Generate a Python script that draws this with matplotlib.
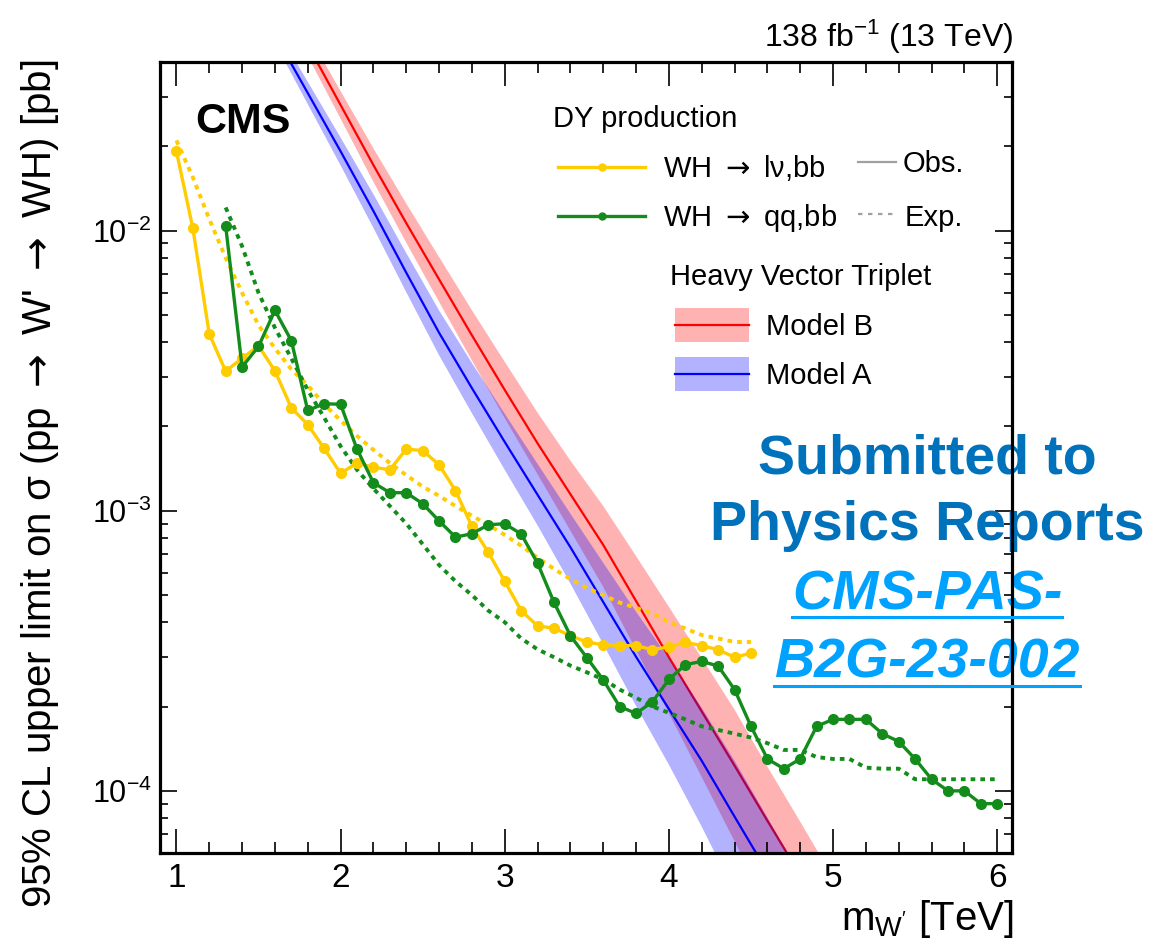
import numpy as np
import matplotlib
matplotlib.use('Agg')
import matplotlib.pyplot as plt
from matplotlib.lines import Line2D
from matplotlib.patches import Rectangle
from matplotlib.ticker import FixedLocator, MultipleLocator, LogLocator, NullFormatter

plt.rcParams['font.family'] = ['Liberation Sans', 'DejaVu Sans']
plt.rcParams['mathtext.fontset'] = 'custom'
plt.rcParams['mathtext.rm'] = 'Liberation Sans'
plt.rcParams['mathtext.it'] = 'Liberation Sans:italic'
plt.rcParams['mathtext.bf'] = 'Liberation Sans:bold'

# WH -> lv,bb (yellow)
m_lvbb = [1.0, 1.1, 1.2, 1.3, 1.4, 1.5, 1.6, 1.7, 1.8, 1.9, 2.0, 2.1, 2.2, 2.3, 2.4, 2.5, 2.6, 2.7,
          2.8, 2.9, 3.0, 3.1, 3.2, 3.3, 3.4, 3.5, 3.6, 3.7, 3.8, 3.9, 4.0, 4.1, 4.2, 4.3, 4.4, 4.5]
obs_lvbb = [0.0192, 0.0102, 0.00428, 0.00315, 0.0035, 0.00388, 0.00316, 0.00233, 0.00203, 0.00167,
            0.00136, 0.00148, 0.00143, 0.00140, 0.00166, 0.00164, 0.00146, 0.00118, 0.000879, 0.00071,
            0.00056, 0.00044, 0.000388, 0.000381, 0.000358, 0.00034, 0.000332, 0.00033, 0.00033,
            0.000319, 0.000327, 0.000339, 0.00033, 0.000319, 0.0003, 0.00031]
exp_lvbb = [0.021, 0.0155, 0.0110, 0.0080, 0.0060, 0.0046, 0.0038, 0.0032, 0.0028, 0.0024,
            0.0021, 0.00185, 0.00165, 0.00148, 0.00134, 0.00122, 0.00113, 0.00104, 0.00096, 0.00089,
            0.00082, 0.00075, 0.00068, 0.00062, 0.00057, 0.00053, 0.00050, 0.00047, 0.00045,
            0.00043, 0.00040, 0.00038, 0.00036, 0.00035, 0.00034, 0.00034]

# WH -> qq,bb (green)
m_qqbb = [1.3, 1.4, 1.5, 1.6, 1.7, 1.8, 1.9, 2.0, 2.1, 2.2, 2.3, 2.4, 2.5, 2.6, 2.7, 2.8, 2.9, 3.0,
          3.1, 3.2, 3.3, 3.4, 3.5, 3.6, 3.7, 3.8, 3.9, 4.0, 4.1, 4.2, 4.3, 4.4, 4.5, 4.6, 4.7, 4.8,
          4.9, 5.0, 5.1, 5.2, 5.3, 5.4, 5.5, 5.6, 5.7, 5.8, 5.9, 6.0]
obs_qqbb = [0.0104, 0.00326, 0.00386, 0.00519, 0.00405, 0.00228, 0.00241, 0.0024, 0.00166, 0.00126,
            0.00116, 0.00116, 0.00106, 0.00092, 0.000805, 0.000828, 0.000891, 0.000899, 0.000826,
            0.00065, 0.000471, 0.000358, 0.000299, 0.000249, 0.0002, 0.000189, 0.000208, 0.00025,
            0.000282, 0.00029, 0.000279, 0.00023, 0.00017, 0.00013, 0.00012, 0.00013, 0.00017,
            0.00018, 0.00018, 0.00018, 0.00016, 0.00015, 0.00013, 0.00011, 0.0001, 0.0001, 0.00009, 0.00009]
exp_qqbb = [0.0121, 0.0088, 0.0060, 0.0045, 0.0035, 0.0027, 0.00215, 0.0017, 0.0014, 0.0012,
            0.00104, 0.0009, 0.00076, 0.00064, 0.00056, 0.0005, 0.00044, 0.0004, 0.00035, 0.00032,
            0.0003, 0.00028, 0.000265, 0.00025, 0.00023, 0.000215, 0.0002, 0.00019, 0.00018, 0.00017,
            0.000165, 0.00016, 0.000155, 0.000148, 0.00014, 0.00014, 0.000132, 0.00013, 0.00013,
            0.000121, 0.00012, 0.00012, 0.00011, 0.00011, 0.00011, 0.00011, 0.00011, 0.00011]

# HVT model A (blue) and model B (red)
m_hvtA = [1.6, 1.8, 2.0, 2.2, 2.4, 2.6, 2.8, 3.0, 3.2, 3.4, 3.6, 3.8, 4.0, 4.2, 4.4, 4.6, 4.8]
xs_hvtA = [0.0501, 0.0310, 0.0192, 0.01175, 0.00708, 0.00432, 0.00274, 0.00176, 0.00114, 0.000741,
           0.000472, 0.000301, 0.000196, 0.000128, 8.09e-5, 5.13e-5, 3.24e-5]
lo_hvtA = [0.0468, 0.0283, 0.0171, 0.01023, 0.00603, 0.00359, 0.00223, 0.0014, 0.000887, 0.00055,
           0.000334, 0.000201, 0.000124, 7.45e-5, 4.35e-5, 2.54e-5, 1.48e-5]
hi_hvtA = [0.0537, 0.0340, 0.0215, 0.01349, 0.00832, 0.00519, 0.00337, 0.00222, 0.00147, 0.000977,
           0.000652, 0.000436, 0.000297, 0.000198, 0.000128, 8.04e-5, 5.01e-5]

m_hvtB = [1.8, 2.0, 2.2, 2.4, 2.6, 2.8, 3.0, 3.2, 3.4, 3.6, 3.8, 4.0, 4.2, 4.4, 4.6, 4.8, 5.0]
xs_hvtB = [0.0460, 0.0281, 0.01714, 0.01064, 0.0067, 0.00423, 0.0027, 0.00174, 0.001146, 0.000755,
           0.000476, 0.0003, 0.000192, 0.000123, 7.82e-5, 5.01e-5, 3.16e-5]
lo_hvtB = [0.0420, 0.0251, 0.01493, 0.00906, 0.00557, 0.00344, 0.00214, 0.00135, 0.000849, 0.000535,
           0.000318, 0.000189, 0.000112, 6.61e-5, 3.87e-5, 2.29e-5, 1.35e-5]
hi_hvtB = [0.0505, 0.0315, 0.01968, 0.0125, 0.00805, 0.0052, 0.0034, 0.00224, 0.00151, 0.00104,
           0.000689, 0.000454, 0.000298, 0.000195, 0.000122, 7.76e-5, 4.9e-5]

W, H = 1154, 941
yellow = '#ffcc00'
green = '#148c1c'
arrow = r'$\rightarrow$'


def P(px, py):
    # pixel -> figure fraction
    return px / W, 1 - py / H


fig = plt.figure(figsize=(W / 100, H / 100), dpi=100)
ax = fig.add_axes([160 / W, 1 - 853 / H, (1012 - 160) / W, (853 - 62) / H])
ax.set_yscale('log')
ax.set_xlim(0.9, 6.09)
ax.set_ylim(6e-5, 0.04)

# theory bands
ax.fill_between(m_hvtB, lo_hvtB, hi_hvtB, color='red', alpha=0.3, lw=0, zorder=1)
ax.plot(m_hvtB, xs_hvtB, color='red', lw=1.6, zorder=1.1)
ax.fill_between(m_hvtA, lo_hvtA, hi_hvtA, color='blue', alpha=0.3, lw=0, zorder=1.2)
ax.plot(m_hvtA, xs_hvtA, color='blue', lw=1.6, zorder=1.3)

# limits
ax.plot(m_lvbb, exp_lvbb, color=yellow, lw=2.8, dashes=(1.2, 1.3), zorder=3)
ax.plot(m_qqbb, exp_qqbb, color=green, lw=2.8, dashes=(1.2, 1.3), zorder=3.1)
ax.plot(m_lvbb, obs_lvbb, color=yellow, lw=2.4, marker='o', ms=7, zorder=3.2)
ax.plot(m_qqbb, obs_qqbb, color=green, lw=2.4, marker='o', ms=7, zorder=3.3)

ax.xaxis.set_major_locator(FixedLocator([1, 2, 3, 4, 5, 6]))
ax.xaxis.set_minor_locator(MultipleLocator(0.2))
ax.yaxis.set_major_locator(LogLocator(base=10))
ax.yaxis.set_minor_locator(LogLocator(base=10, subs=np.arange(2, 10)))
ax.yaxis.set_minor_formatter(NullFormatter())
ax.tick_params(axis='both', which='both', direction='in', top=True, right=True, width=1.2)
ax.tick_params(axis='x', which='major', length=17, labelsize=24, pad=7)
ax.tick_params(axis='x', which='minor', length=8)
ax.tick_params(axis='y', which='major', length=12, labelsize=22, pad=6)
ax.tick_params(axis='y', which='minor', length=6)
for s in ax.spines.values():
    s.set_linewidth(2.3)

# axis titles
fig.text(*P(40, 60), "95% CL upper limit on σ (pp " + arrow + " W' " + arrow + " WH) [pb]",
         rotation=90, ha='center', va='top', fontsize=29, math_fontfamily='dejavusans')
fig.text(*P(1014, 930), r"m$_{\mathrm{W'}}$ [TeV]", ha='right', va='baseline', fontsize=29)
fig.text(*P(1013, 47), r"138 fb$^{-1}$ (13 TeV)", ha='right', va='baseline', fontsize=23)
fig.text(*P(195, 133), "CMS", fontsize=31, fontweight='bold', va='baseline')

# legend
leg_kw = dict(fontsize=21, va='baseline', math_fontfamily='dejavusans')
fig.text(*P(553, 127), "DY production", **leg_kw)
fig.add_artist(Line2D([558 / W, 645 / W], [1 - 167 / H] * 2, color=yellow, lw=2.4))
fig.add_artist(Line2D([602 / W], [1 - 167 / H], color=yellow, marker='o', ms=5))
fig.text(*P(663, 177), "WH " + arrow + " lν,bb", **leg_kw)
fig.add_artist(Line2D([558 / W, 645 / W], [1 - 216 / H] * 2, color=green, lw=2.4))
fig.add_artist(Line2D([602 / W], [1 - 216 / H], color=green, marker='o', ms=5))
fig.text(*P(663, 226), "WH " + arrow + " qq,bb", **leg_kw)
fig.add_artist(Line2D([858 / W, 896 / W], [1 - 162 / H] * 2, color='#a0a0a0', lw=1.6))
fig.text(*P(903, 172), "Obs.", **leg_kw)
fig.add_artist(Line2D([858 / W, 896 / W], [1 - 214 / H] * 2, color='#a0a0a0', lw=1.6,
                      dashes=(2, 2.5)))
fig.text(*P(905, 226), "Exp.", **leg_kw)
fig.text(*P(670, 285), "Heavy Vector Triplet", **leg_kw)
fig.add_artist(Rectangle(P(675, 342), 74 / W, 34 / H, color='red', alpha=0.3, lw=0))
fig.add_artist(Line2D([675 / W, 749 / W], [1 - 325 / H] * 2, color='red', lw=1.6))
fig.text(*P(766, 335), "Model B", **leg_kw)
fig.add_artist(Rectangle(P(675, 391), 74 / W, 34 / H, color='blue', alpha=0.3, lw=0))
fig.add_artist(Line2D([675 / W, 749 / W], [1 - 374 / H] * 2, color='blue', lw=1.6))
fig.text(*P(766, 384), "Model A", **leg_kw)

# submission note (drawn under the axes frame)
note_kw = dict(transform=fig.transFigure, ha='center', va='baseline', fontsize=40,
               fontweight='bold', clip_on=False, zorder=2)
ax.text(*P(927, 473), "Submitted to", color='#0072bb', **note_kw)
ax.text(*P(927, 540), "Physics Reports", color='#0072bb', **note_kw)
links = [ax.text(*P(927, 610), "CMS-PAS-", color='#00a2ff', style='italic', **note_kw),
         ax.text(*P(927, 678), "B2G-23-002", color='#00a2ff', style='italic', **note_kw)]

fig.canvas.draw()
r = fig.canvas.get_renderer()
for t, py in zip(links, [617, 686]):
    bb = t.get_window_extent(r)
    fig.add_artist(Line2D([bb.x0 / W, bb.x1 / W], [1 - py / H] * 2, color='#00a2ff', lw=2.2))

fig.savefig('out.png', dpi=100)
